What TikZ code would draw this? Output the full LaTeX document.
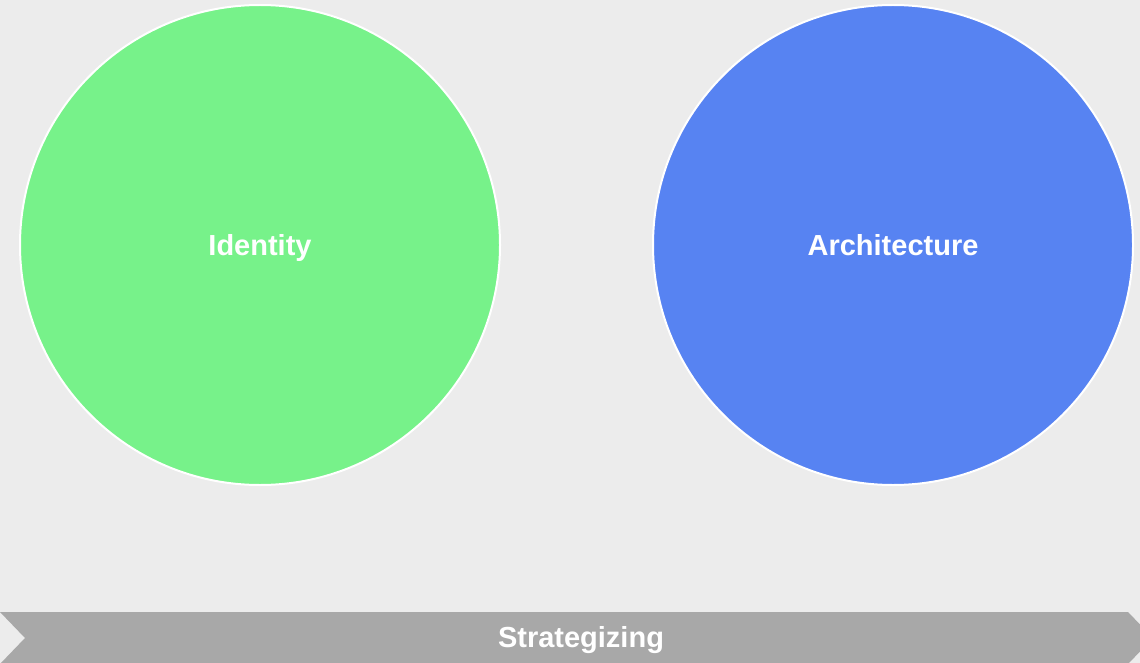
\documentclass[tikz,border=0pt]{standalone}
\usepackage{fontspec}
\setmainfont{Liberation Sans}
\definecolor{bgc}{HTML}{ECECEC}
\definecolor{greenc}{HTML}{77F28A}
\definecolor{bluec}{HTML}{5783F2}
\definecolor{barc}{HTML}{A8A8A8}
\tikzset{
  bubble/.style={circle, draw=white, line width=2pt, minimum size=480pt, inner sep=0pt,
    text=white, text height=27pt, text depth=6pt,
    font=\fontsize{29}{34}\selectfont\bfseries},
  barlabel/.style={text=white, text height=27pt, text depth=6pt,
    font=\fontsize{29}{34}\selectfont\bfseries}
}
\begin{document}
\begin{tikzpicture}[x=1pt,y=-1pt]
\useasboundingbox (0,0) rectangle (1140,663);
\clip (0,0) rectangle (1140,663);
\fill[bgc] (0,0) rectangle (1140,663);
\node[bubble, fill=greenc] (identity) at (260,245) {Identity};
\node[bubble, fill=bluec] (architecture) at (893,245) {Architecture};
\fill[barc] (0,612) -- (1128,612) -- (1153,638) -- (1128,664) -- (0,664) -- (25,638) -- cycle;
\node[barlabel] (strategizing) at (581,637) {Strategizing};
\end{tikzpicture}
\end{document}
